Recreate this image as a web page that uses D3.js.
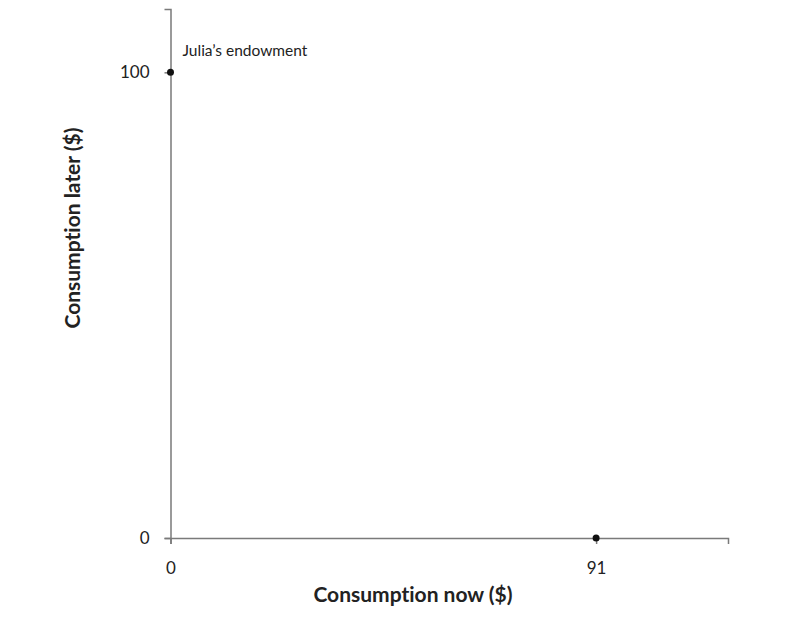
<!DOCTYPE html>
<html>
<head>
<meta charset="utf-8">
<script src="https://cdn.jsdelivr.net/npm/d3@7"></script>
<style>
  body { margin: 0; background: #fff; }
  text { font-family: Lato, "Open Sans", sans-serif; fill: #222; font-variant-ligatures: none; }
</style>
</head>
<body>
<div id="root"></div>
<script>
const width = 810
const height = 619

// data
const xTicks = [0, 91]
const yTicks = [0, 100]
const points = [
  { x: 0, y: 100, label: 'Julia\u2019s endowment' },
  { x: 91, y: 0, label: '' }
]
const xMax = 119.2
const yMax = 113.6

const mLeft = 170.5
const mTop = 9
const mRight = 728
const mBottom = 538

const svg = d3.select('#root').append('svg')
  .attr('width', width)
  .attr('height', height)

const x = d3.scaleLinear().domain([0, xMax]).range([mLeft, mRight])
const y = d3.scaleLinear().domain([0, yMax]).range([mBottom, mTop])

const axisColor = '#7a7a7a'

// x axis
const gx = svg.append('g')
  .attr('transform', `translate(0,${mBottom})`)
  .call(d3.axisBottom(x).tickValues(xTicks).tickSize(6).tickSizeOuter(6).tickPadding(18))
gx.select('.domain').attr('stroke', axisColor).attr('stroke-width', 1.5)
gx.selectAll('.tick line').attr('stroke', axisColor).attr('stroke-width', 1.5)
gx.selectAll('.tick text').style('font-size', '17px').attr('fill', '#222')

// y axis
const gy = svg.append('g')
  .attr('transform', `translate(${mLeft},0)`)
  .call(d3.axisLeft(y).tickValues(yTicks).tickSize(6).tickSizeOuter(6).tickPadding(15))
gy.select('.domain').attr('stroke', axisColor).attr('stroke-width', 1.5)
gy.selectAll('.tick line').attr('stroke', axisColor).attr('stroke-width', 1.5)
gy.selectAll('.tick text').style('font-size', '17px').attr('fill', '#222')

// axis titles
svg.append('text')
  .attr('x', 413)
  .attr('y', 602)
  .attr('text-anchor', 'middle')
  .style('font-size', '21px')
  .style('font-weight', 'bold')
  .text('Consumption now ($)')

svg.append('text')
  .attr('transform', 'translate(80,228) rotate(-90)')
  .attr('text-anchor', 'middle')
  .style('font-size', '21px')
  .style('font-weight', 'bold')
  .text('Consumption later ($)')

// points
svg.selectAll('circle')
  .data(points)
  .enter().append('circle')
  .attr('cx', d => x(d.x))
  .attr('cy', d => y(d.y))
  .attr('r', 3.5)
  .attr('fill', '#111')

svg.selectAll('.lbl')
  .data(points.filter(d => d.label))
  .enter().append('text')
  .attr('class', 'lbl')
  .attr('x', d => x(d.x) + 12)
  .attr('y', d => y(d.y) - 16)
  .style('font-size', '15.5px')
  .text(d => d.label)
</script>
</body>
</html>
